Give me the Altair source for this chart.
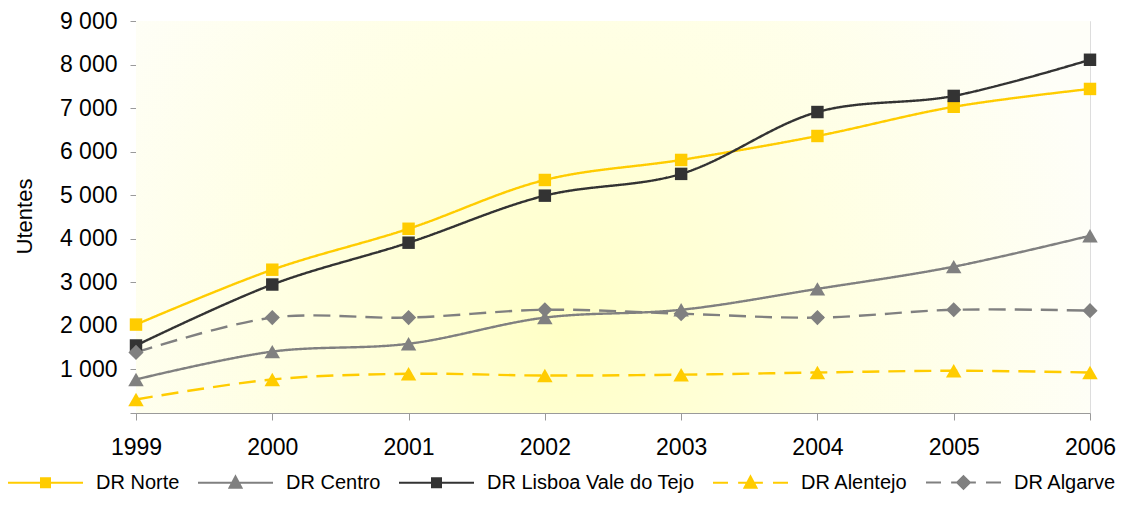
import altair as alt
import pandas as pd

# ---- data ----
years = ["1999", "2000", "2001", "2002", "2003", "2004", "2005", "2006"]
series = ["DR Norte", "DR Centro", "DR Lisboa Vale do Tejo", "DR Alentejo", "DR Algarve"]
norte = [2030, 3290, 4230, 5350, 5810, 6360, 7030, 7440]
centro = [770, 1410, 1590, 2190, 2370, 2850, 3360, 4070]
lisboa = [1550, 2950, 3910, 4990, 5490, 6910, 7280, 8110]
alentejo = [310, 770, 900, 860, 880, 930, 970, 930]
algarve = [1390, 2190, 2190, 2370, 2280, 2190, 2370, 2350]
y_ticks = [0, 1000, 2000, 3000, 4000, 5000, 6000, 7000, 8000, 9000]

values_by_series = [norte, centro, lisboa, alentejo, algarve]
rows = []
for s, vals in zip(series, values_by_series):
    for yr, v in zip(years, vals):
        rows.append({"year": yr, "series": s, "value": v})
df = pd.DataFrame(rows)

# ---- styles ----
FONT = "Liberation Sans"
colors = ["#FFCC00", "#808080", "#333333", "#FFCC00", "#808080"]
dashes = [[1, 0], [1, 0], [1, 0], [17, 9], [17, 9]]
marker_shapes = ["square", "triangle-up", "square", "triangle-up", "diamond"]
marker_sizes = [155, 240, 155, 240, 230]


def f(v):
    return f"{v:.3f}"


def square_path(h=0.12, step=0.035):
    p = f"M{f(-h)},{f(-h)}H{f(h)}V{f(h)}H{f(-h)}Z"
    y = -h
    while y <= h + 1e-9:
        p += f"M{f(-h)},{f(y)}H{f(h)}"
        y += step
    return p


def triangle_path(top=-0.17, base=0.13, hw=0.16, step=0.035):
    p = f"M0,{f(top)}L{f(hw)},{f(base)}H{f(-hw)}Z"
    y = top + 0.02
    while y <= base + 1e-9:
        w = hw * (y - top) / (base - top)
        p += f"M{f(-w)},{f(y)}H{f(w)}"
        y += step
    return p


def diamond_path(r=0.17, step=0.035):
    p = f"M0,{f(-r)}L{f(r)},0L0,{f(r)}L{f(-r)},0Z"
    y = -r + 0.02
    while y <= r - 0.02 + 1e-9:
        w = r - abs(y)
        p += f"M{f(-w)},{f(y)}H{f(w)}"
        y += step
    return p


solid = "M-1,0H1"
dashed = "M-1,0H-0.6M-0.33,0H0.33M0.6,0H1"
legend_paths = [
    solid + square_path(),
    solid + triangle_path(),
    solid + square_path(),
    dashed + triangle_path(),
    dashed + diamond_path(),
]

W, H = 954, 392
AXIS_GREY = "#9a9a9a"

x_enc = alt.X(
    "year:O", sort=years,
    scale=alt.Scale(type="point", padding=0),
    axis=alt.Axis(title=None, labelAngle=0, labelFontSize=23, labelPadding=16,
                  tickSize=7, labelColor="black", domainColor=AXIS_GREY,
                  tickColor=AXIS_GREY, grid=False, labelFont=FONT),
)
y_scale = alt.Scale(domain=[0, 9000], nice=False, zero=True)
y_axis = alt.Axis(
    title="Utentes", values=y_ticks, grid=False,
    labelExpr="datum.value == 0 ? '' : replace(format(datum.value, ','), ',', ' ')",
    labelFontSize=23, labelPadding=13, tickSize=6, labelColor="black",
    domainColor=AXIS_GREY, tickColor=AXIS_GREY, labelFont=FONT,
    titleFont=FONT, titleFontSize=22, titleFontWeight="normal", titleColor="black",
    titleX=-112, titleY=195, titleAngle=-90, titleAlign="center", titleBaseline="middle",
)
y_enc = alt.Y("value:Q", scale=y_scale, axis=y_axis)

bg = alt.Chart(alt.Data(values=[{}])).mark_rect(
    color=alt.RadialGradient(
        gradient="radial",
        stops=[alt.GradientStop(offset=0, color="#FFFFC6"),
               alt.GradientStop(offset=0.5, color="#FFFFE2"),
               alt.GradientStop(offset=1, color="#FEFEF8")],
        x1=0.45, y1=0.62, r1=0, x2=0.45, y2=0.62, r2=0.58,
    )
).encode(x=alt.value(0), x2=alt.value(W), y=alt.value(0), y2=alt.value(H))

layers = [bg]
for s, c, d in zip(series, colors, dashes):
    layers.append(
        alt.Chart(df).transform_filter(alt.datum.series == s)
        .mark_line(interpolate="catmull-rom", strokeWidth=2.4, color=c, strokeDash=d)
        .encode(x=x_enc, y=y_enc)
    )
for s, c, shp, sz in zip(series, colors, marker_shapes, marker_sizes):
    layers.append(
        alt.Chart(df).transform_filter(alt.datum.series == s)
        .mark_point(filled=True, opacity=1, color=c, shape=shp, size=sz)
        .encode(x=x_enc, y=y_enc)
    )

leg = alt.Legend(
    title=None, orient="none", legendX=-129, legendY=423, direction="horizontal",
    labelFontSize=20, labelFont=FONT, labelColor="black", labelLimit=500,
    symbolSize=5625, symbolStrokeWidth=2, labelOffset=12, columnPadding=14, padding=0,
)
legend_layer = alt.Chart(df).transform_calculate(off="datum.value + 100000").mark_point(
    clip=True, opacity=1, strokeWidth=2, filled=False
).encode(
    x=x_enc,
    y=alt.Y("off:Q", scale=y_scale, axis=y_axis),
    color=alt.Color("series:N", scale=alt.Scale(domain=series, range=colors), legend=leg),
    shape=alt.Shape("series:N", scale=alt.Scale(domain=series, range=legend_paths), legend=leg),
)
layers.append(legend_layer)

chart = alt.layer(*layers).properties(
    width=W, height=H,
    autosize=alt.AutoSizeParams(type="none"),
    padding={"left": 128, "top": 13, "right": 38, "bottom": 82},
    background="white",
).configure_view(strokeWidth=0).configure(font=FONT)

chart.save("out.html", embed_options={"renderer": "svg", "actions": False})
